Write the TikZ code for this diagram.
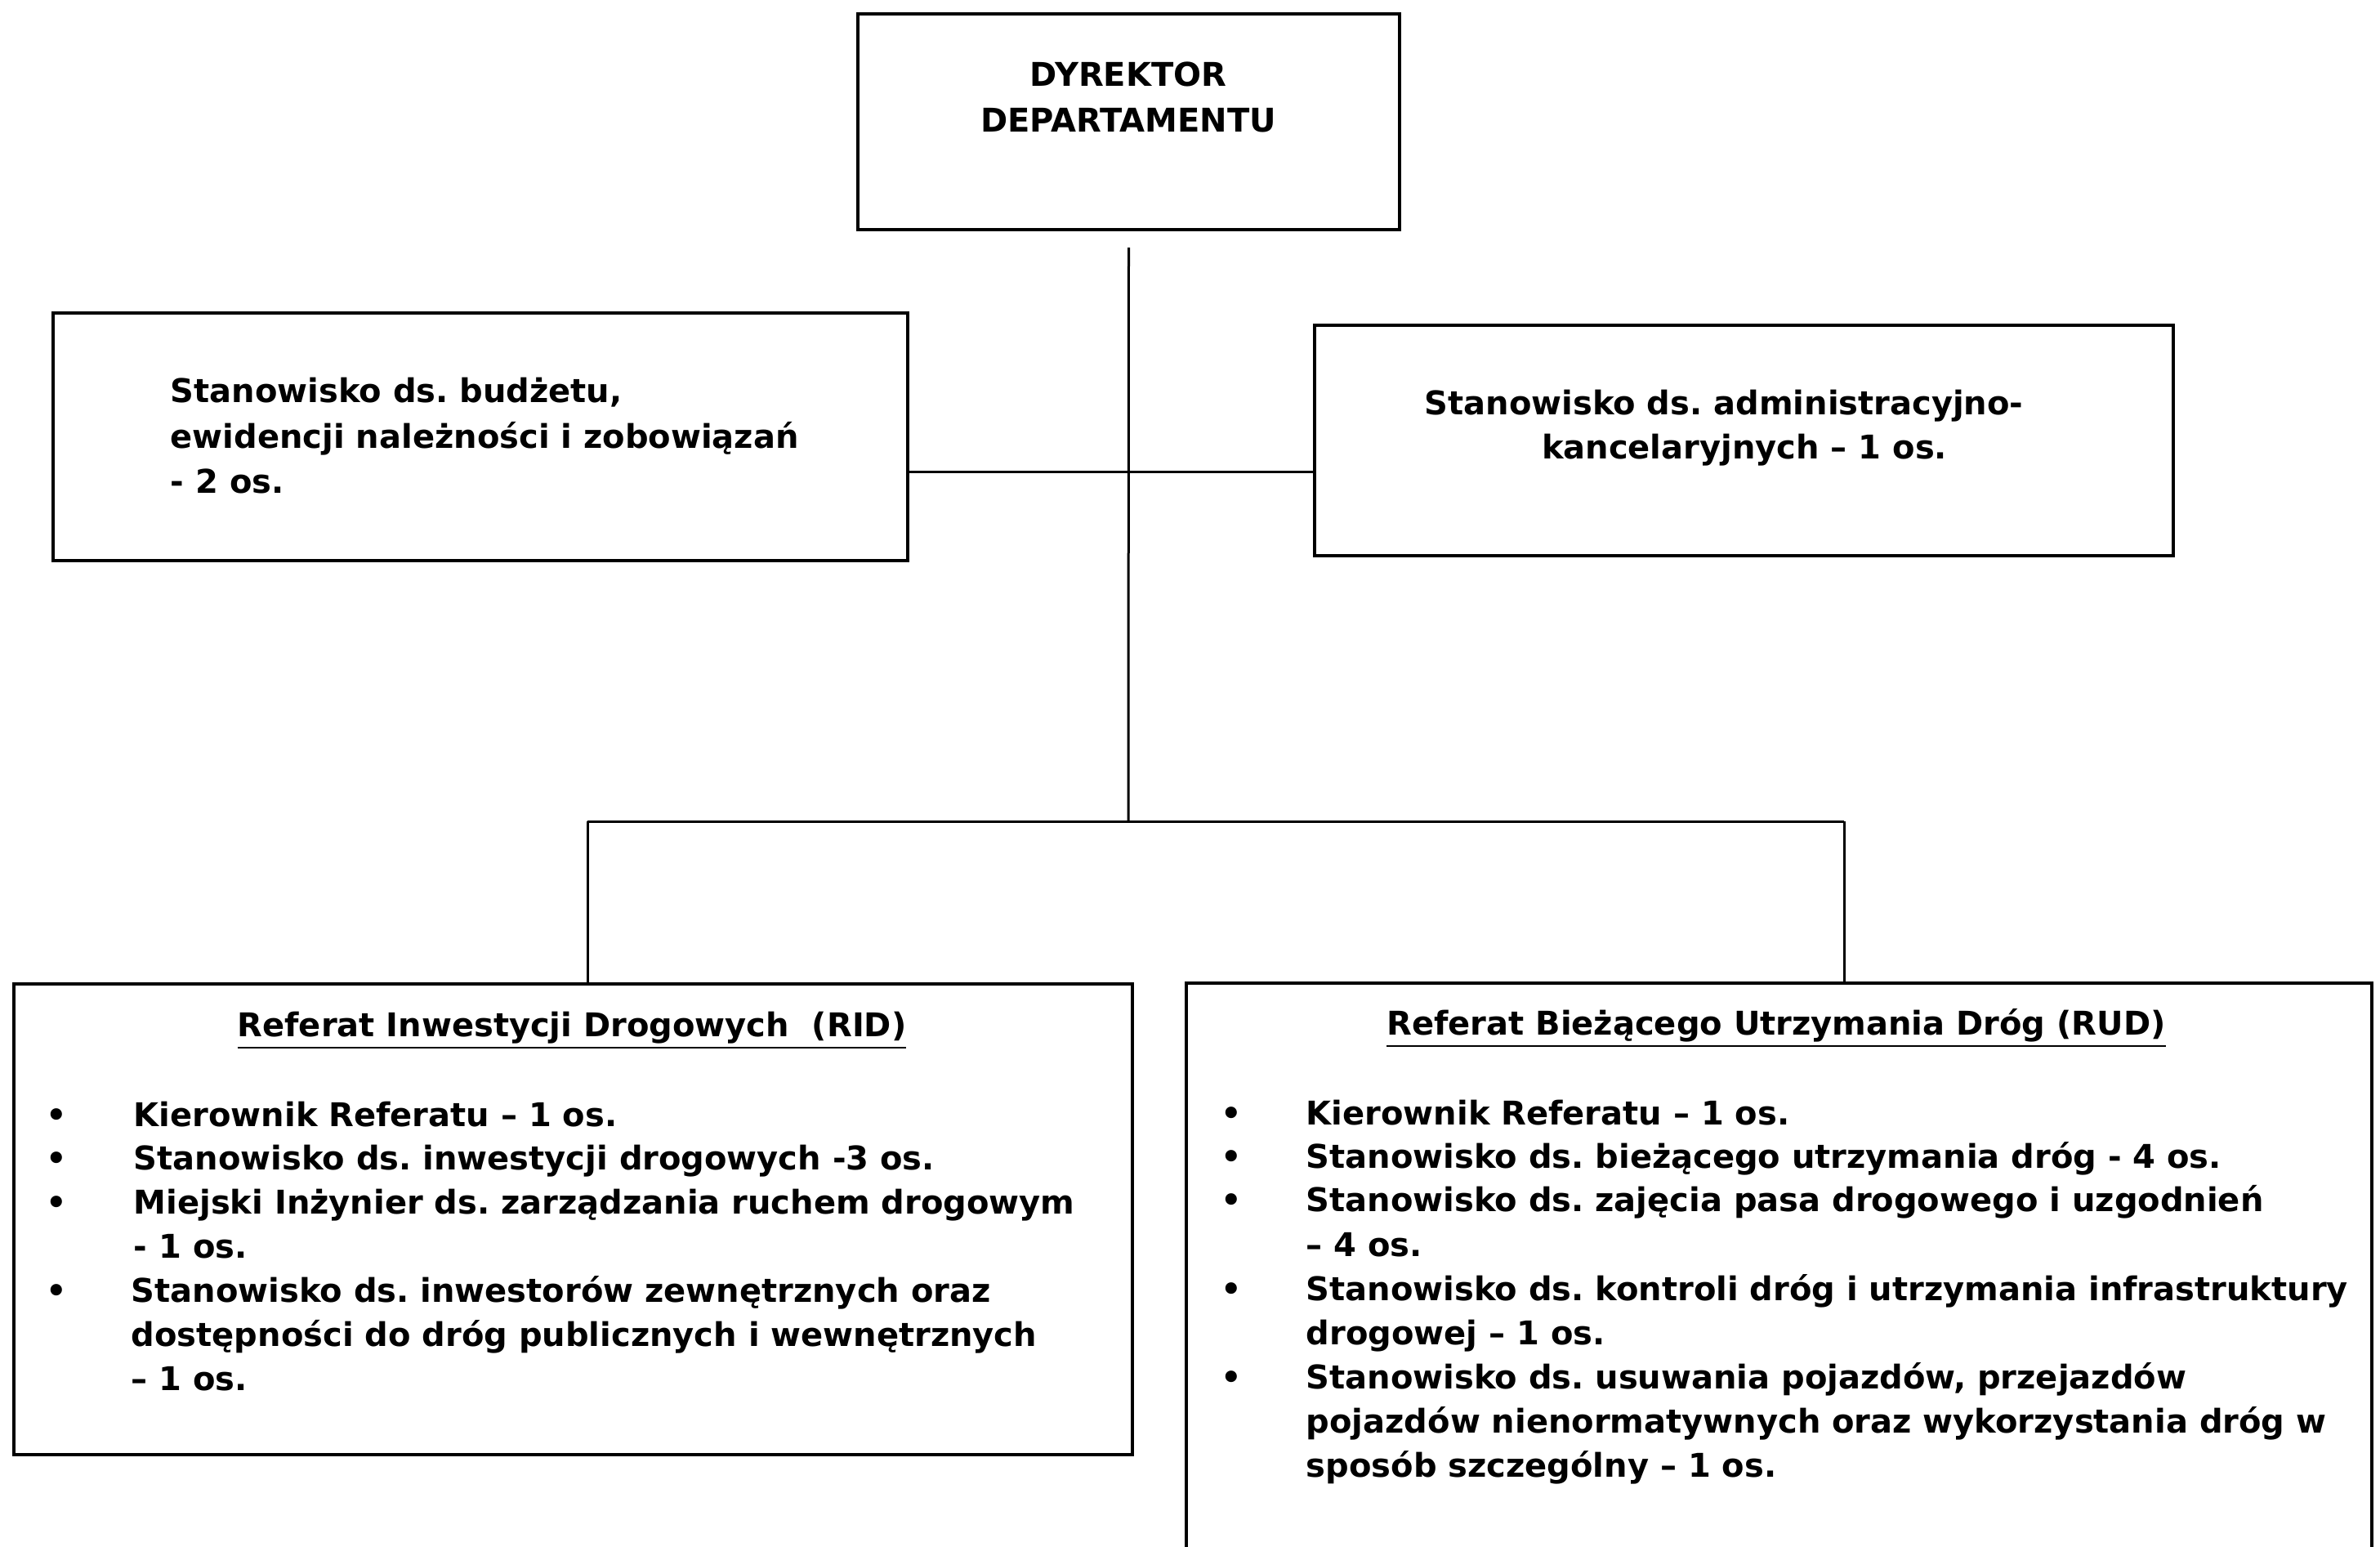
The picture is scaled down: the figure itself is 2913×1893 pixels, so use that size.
\documentclass[tikz,border=0pt]{standalone}
\usepackage{fontspec}
\setmainfont{DejaVu Sans}
\frenchspacing
\begin{document}
\begin{tikzpicture}[x=0.25pt,y=-0.25pt,
  box/.style={draw=black, line width=0.9pt, inner sep=0},
  conn/.style={draw=black, line width=0.75pt},
  txt/.style={inner sep=0, anchor=base west, font=\fontsize{10}{13.5}\selectfont\bfseries\frenchspacing},
  ctxt/.style={txt, anchor=base},
  bul/.style={txt, anchor=base}]
\fill[white] (0,0) rectangle (2913,1893);
\useasboundingbox (0,0) rectangle (2913,1893);

% boxes
\node[box, minimum width=165.75pt, minimum height=66pt] (dir) at (1381.5,149) {};
\node[box, minimum width=261.5pt, minimum height=75.75pt] (lbox) at (588,534.5) {};
\node[box, minimum width=262.75pt, minimum height=70.5pt] (rbox) at (2134.5,539) {};
\node[box, minimum width=342.25pt, minimum height=144pt] (rid) at (701.5,1492) {};
\node[inner sep=0, minimum width=362.25pt, minimum height=172.25pt] (rud) at (2177.5,1548.5) {};
\draw[box] (rud.south west) |- (rud.north east) -- (rud.south east);

% connectors
\coordinate (mid) at (1381,578);
\coordinate (busL) at (719,1005);
\coordinate (busR) at (2257,1005);
\coordinate (busC) at (1381,1005);
\draw[conn] ([yshift=-5pt]dir.south) -- (busC);
\draw[conn] (lbox.east |- mid) -- (rbox.west |- mid);
\draw[conn] (busL) -- (busR);
\draw[conn] (busL) -- (busL |- rid.north);
\draw[conn] (busR) -- (busR |- rud.north);

% director
\node[ctxt] (d1) at (1381,106) {DYREKTOR};
\node[ctxt] (d2) at (1381,162) {DEPARTAMENTU};

% left middle
\node[txt] (l1) at (208,493) {Stanowisko ds. budżetu,};
\node[txt] (l2) at (208,549) {ewidencji należności i zobowiązań};
\node[txt] (l3) at (208,603) {- 2 os.};

% right middle
\node[ctxt] (r1) at (2110,508) {Stanowisko ds. administracyjno-};
\node[ctxt] (r2) at (2135,562) {kancelaryjnych – 1 os.};

% RID
\node[ctxt] (ridt) at (700,1268) {\underline{Referat Inwestycji Drogowych\ \ (RID)}};
\node[bul] (ridb1) at (69,1378) {•};
\node[bul] (ridb2) at (69,1431) {•};
\node[bul] (ridb3) at (69,1485) {•};
\node[bul] (ridb4) at (69,1593) {•};
\node[txt] (rid1) at (163,1378) {Kierownik Referatu – 1 os.};
\node[txt] (rid2) at (163,1431) {Stanowisko ds. inwestycji drogowych -3 os.};
\node[txt] (rid3) at (163,1485) {Miejski Inżynier ds. zarządzania ruchem drogowym};
\node[txt] (rid4) at (163,1539) {- 1 os.};
\node[txt] (rid5) at (160,1593) {Stanowisko ds. inwestorów zewnętrznych oraz};
\node[txt] (rid6) at (160,1647) {dostępności do dróg publicznych i wewnętrznych};
\node[txt] (rid7) at (160,1701) {– 1 os.};

% RUD
\node[ctxt] (rudt) at (2174,1266) {\underline{Referat Bieżącego Utrzymania Dróg (RUD)}};
\node[bul] (rudb1) at (1507,1376) {•};
\node[bul] (rudb2) at (1507,1429) {•};
\node[bul] (rudb3) at (1507,1482) {•};
\node[bul] (rudb4) at (1507,1591) {•};
\node[bul] (rudb5) at (1507,1699) {•};
\node[txt] (rud1) at (1598,1376) {Kierownik Referatu – 1 os.};
\node[txt] (rud2) at (1598,1429) {Stanowisko ds. bieżącego utrzymania dróg - 4 os.};
\node[txt] (rud3) at (1598,1482) {Stanowisko ds. zajęcia pasa drogowego i uzgodnień};
\node[txt] (rud4) at (1598,1537) {– 4 os.};
\node[txt] (rud5) at (1598,1591) {Stanowisko ds. kontroli dróg i utrzymania infrastruktury};
\node[txt] (rud6) at (1598,1645) {drogowej – 1 os.};
\node[txt] (rud7) at (1598,1699) {Stanowisko ds. usuwania pojazdów, przejazdów};
\node[txt] (rud8) at (1598,1753) {pojazdów nienormatywnych oraz wykorzystania dróg w};
\node[txt] (rud9) at (1598,1807) {sposób szczególny – 1 os.};
\end{tikzpicture}
\end{document}
